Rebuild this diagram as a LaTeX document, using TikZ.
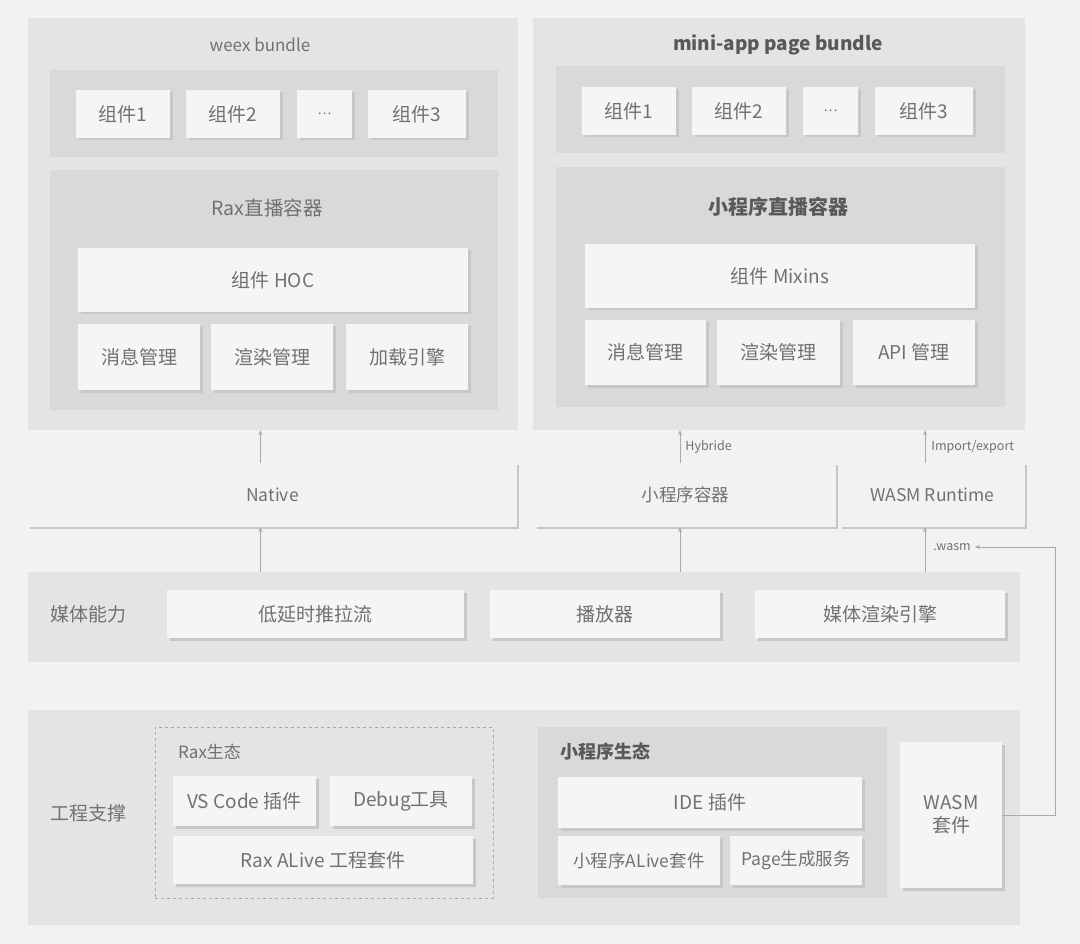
\documentclass[tikz,border=0pt]{standalone}
\usepackage{fontspec}
\setmainfont{Noto Sans CJK SC}
\usetikzlibrary{arrows.meta,shadows}
\definecolor{bggray}{HTML}{F1F2F2}
\definecolor{panelgray}{HTML}{E3E4E4}
\definecolor{innergray}{HTML}{D8D9D9}
\definecolor{cellgray}{HTML}{F4F5F5}
\definecolor{shadegray}{HTML}{C6C7C7}
\definecolor{textgray}{HTML}{707171}
\definecolor{linegray}{HTML}{A9AAAA}
\begin{document}
\begin{tikzpicture}[x=1pt, y=-1pt, every node/.style={text=textgray, inner sep=0pt}, panel/.style={fill=panelgray, draw=none}, inner/.style={fill=innergray, draw=none}, cell/.style={fill=cellgray, font=\fontsize{19}{21}\selectfont, drop shadow={shadow xshift=2.5pt, shadow yshift=-2.5pt, fill=shadegray, opacity=1}}, flat/.style={fill=bggray, font=\fontsize{17.5}{20}\selectfont, drop shadow={shadow xshift=1.5pt, shadow yshift=-1.5pt, fill=shadegray, opacity=1}}, title/.style={font=\fontsize{17}{19}\selectfont}, bold title/.style={font=\fontsize{19}{21}\selectfont\bfseries, text=black!65}, tag/.style={font=\fontsize{12.5}{14}\selectfont}, link/.style={draw=linegray, line width=0.8pt, -{Stealth[length=5pt, width=4pt]}}]

\useasboundingbox (0,0) rectangle (1080,944);
\fill[bggray] (0,0) rectangle (1080,944);

% weex bundle
\node[panel, minimum width=490, minimum height=412] (weex) at (273,224) {};
\node[title] at (260,45) {weex bundle};
\node[inner, minimum width=448, minimum height=87] (wrow) at (274,113.5) {};
\node[cell, minimum width=94, minimum height=48] (w1) at (123,114) {组件1};
\node[cell, minimum width=94, minimum height=48] (w2) at (233,114) {组件2};
\node[cell, minimum width=55, minimum height=48] (wdots) at (324.5,114) {\fontsize{13}{14}\selectfont …};
\node[cell, minimum width=98, minimum height=48] (w3) at (417,114) {组件3};
\node[inner, minimum width=448, minimum height=240] (rax) at (274,290) {};
\node[title, font=\fontsize{19.5}{21}\selectfont] at (267,208) {Rax直播容器};
\node[cell, minimum width=390, minimum height=64] (hoc) at (273,280) {组件 HOC};
\node[cell, minimum width=122, minimum height=66] (wmsg) at (139,357) {消息管理};
\node[cell, minimum width=122, minimum height=66] (wrender) at (272,357) {渲染管理};
\node[cell, minimum width=122, minimum height=66] (wload) at (407,357) {加载引擎};

% mini-app page bundle
\node[panel, minimum width=492, minimum height=412] (mini) at (779,224) {};
\node[bold title] at (778,45) {mini-app page bundle};
\node[inner, minimum width=449, minimum height=87] (mrow) at (780.5,109.5) {};
\node[cell, minimum width=94, minimum height=48] (m1) at (629,111) {组件1};
\node[cell, minimum width=94, minimum height=48] (m2) at (739,111) {组件2};
\node[cell, minimum width=55, minimum height=48] (mdots) at (830.5,111) {\fontsize{13}{14}\selectfont …};
\node[cell, minimum width=98, minimum height=48] (m3) at (924,111) {组件3};
\node[inner, minimum width=449, minimum height=240] (minilive) at (780.5,287) {};
\node[bold title, font=\fontsize{20}{22}\selectfont\bfseries] at (778,207) {小程序直播容器};
\node[cell, minimum width=390, minimum height=64] (mixins) at (780,276) {组件 Mixins};
\node[cell, minimum width=121, minimum height=65] (mmsg) at (645.5,352.5) {消息管理};
\node[cell, minimum width=123, minimum height=65] (mrender) at (778.5,352.5) {渲染管理};
\node[cell, minimum width=122, minimum height=65] (mapi) at (914,352.5) {API 管理};

% runtime row
\node[flat, minimum width=489, minimum height=64] (native) at (272.5,495) {Native};
\node[flat, minimum width=301, minimum height=64] (minic) at (685.5,495) {小程序容器};
\node[flat, minimum width=185, minimum height=64] (wasmrt) at (932.5,495) {WASM Runtime};

% media
\node[panel, minimum width=992, minimum height=90] (media) at (524,617) {};
\node[font=\fontsize{19}{21}\selectfont] at (88,614) {媒体能力};
\node[cell, minimum width=297, minimum height=48] (stream) at (315.5,614) {低延时推拉流};
\node[cell, minimum width=230, minimum height=48] (player) at (605,614) {播放器};
\node[cell, minimum width=250, minimum height=48] (mengine) at (880,614) {媒体渲染引擎};

% engineering
\node[panel, minimum width=992, minimum height=215] (eng) at (524,817.5) {};
\node[font=\fontsize{19}{21}\selectfont] at (88,813) {工程支撑};
\node[draw=linegray, dashed, line width=0.8pt, minimum width=338, minimum height=171] (raxeco) at (324,812.5) {};
\node[title, anchor=west] at (178,752) {Rax生态};
\node[cell, minimum width=143, minimum height=50] (vscode) at (244.5,801) {VS Code 插件};
\node[cell, minimum width=142, minimum height=50] (debug) at (401,801) {Debug工具};
\node[cell, minimum width=300, minimum height=48] (raxalive) at (323,860) {Rax ALive 工程套件};
\node[inner, minimum width=349, minimum height=171] (minieco) at (712.5,812.5) {};
\node[bold title, font=\fontsize{18}{20}\selectfont\bfseries, anchor=west] at (560,752) {小程序生态};
\node[cell, minimum width=304, minimum height=51] (ide) at (710,802.5) {IDE 插件};
\node[cell, minimum width=162, minimum height=49, font=\fontsize{17.5}{20}\selectfont] (malive) at (639,860.5) {小程序ALive套件};
\node[cell, minimum width=132, minimum height=49, font=\fontsize{17.5}{20}\selectfont] (pagesvc) at (796,860.5) {Page生成服务};
\node[cell, minimum width=102, minimum height=146, align=center] (wasmkit) at (951,815) {WASM\\[2pt]套件};

% connectors
\draw[link] ([xshift=-12pt]native.north) -- ([xshift=-12pt]native.north |- weex.south);
\draw[link] ([xshift=-5.5pt]minic.north) -- ([xshift=-5.5pt]minic.north |- mini.south) node[tag, pos=0.5, anchor=west, xshift=5pt] {Hybride};
\draw[link] ([xshift=-7.5pt]wasmrt.north) -- ([xshift=-7.5pt]wasmrt.north |- mini.south) node[tag, pos=0.5, anchor=west, xshift=6pt] {Import/export};
\draw[link] ([xshift=-12pt]native.south |- media.north) -- ([xshift=-12pt]native.south);
\draw[link] ([xshift=-5.5pt]minic.south |- media.north) -- ([xshift=-5.5pt]minic.south);
\draw[link] ([xshift=-7.5pt]wasmrt.south |- media.north) -- ([xshift=-7.5pt]wasmrt.south);
\node[tag] (wasmtag) at (952,547) {.wasm};
\coordinate (wasmturn) at (1055,547);
\draw[link] (wasmkit.east) -| (wasmturn) -- ([xshift=4pt]wasmtag.east);
\end{tikzpicture}
\end{document}
